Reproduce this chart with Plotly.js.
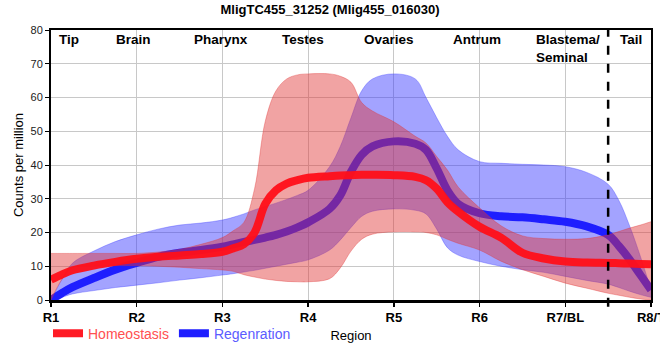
<!DOCTYPE html>
<html>
<head>
<meta charset="utf-8">
<script src="https://cdn.plot.ly/plotly-3.0.1.min.js"></script>
<style>html,body{margin:0;padding:0;background:#fff;}#chart{width:660px;height:360px;}</style>
</head>
<body>
<div id="chart"></div>
<script>
// Region positions along the body axis (R1 = 1 ... R8/T = 8)
const xPos = [1, 1.125, 1.25, 1.5, 1.75, 2, 2.25, 2.5, 2.75, 3, 3.125, 3.25, 3.375, 3.5, 3.625, 3.75, 3.875, 4, 4.25, 4.375, 4.5, 4.625, 4.75, 5, 5.25, 5.375, 5.5, 5.625, 5.75, 6, 6.25, 6.5, 6.75, 7, 7.25, 7.5, 7.625, 7.75, 7.875, 8];

// Homeostasis (counts per million)
const homMean  = [6, 7.5, 8.8, 10.2, 11.3, 12.2, 12.8, 13.2, 13.6, 14.3, 15.3, 16.5, 20, 28.5, 32.5, 34.5, 35.5, 36.2, 36.7, 36.9, 37, 37.1, 37.1, 37, 36.5, 35.5, 33, 29, 26.2, 21.7, 18.5, 14, 12.3, 11.4, 11.1, 11, 10.9, 10.8, 10.7, 10.6];
const homUpper = [13.8, 13.8, 13.8, 13.8, 13.8, 13.8, 14.2, 15, 16.5, 18.5, 20.5, 23, 33, 53, 62, 65.5, 66.7, 67, 67, 66.3, 64.5, 58.5, 56, 52.8, 48.5, 46.5, 42.5, 38.5, 33.5, 27.3, 22, 19, 18.2, 18, 18.2, 19.3, 20.3, 21.3, 22.2, 23.2];
const homLower = [0, 6, 9.5, 10.2, 10.2, 10.2, 10, 9.7, 9.3, 8.9, 8.5, 7.5, 6.8, 6.2, 5.8, 5.5, 5.4, 5.4, 6.3, 9.5, 14.5, 18, 19.5, 20.2, 20.2, 20, 19.3, 18, 16.8, 14.8, 11.5, 9, 7, 5, 3.5, 2, 1.4, 0.8, 0.3, 0];

// Regeneration (counts per million)
const regMean  = [0, 2, 3.8, 6.5, 9, 11, 12.8, 14, 14.8, 15.8, 16.5, 17.2, 17.8, 18.5, 19.3, 20.3, 21.5, 23, 27, 31, 38, 43, 45.5, 47, 46.3, 44.5, 39, 32.5, 28.5, 25.7, 24.8, 24.5, 23.9, 23.2, 21.8, 19.3, 16, 12, 7.5, 3];
const regUpper = [0, 6, 10.9, 14.5, 17.3, 19.3, 21, 22.2, 22.8, 23.7, 24.5, 25.5, 26.7, 27.7, 28.7, 29.8, 31, 32.5, 39.5, 45.5, 54, 62, 65.5, 67, 65.5, 60, 54, 48.5, 44.5, 41, 40.5, 40.2, 40, 39.5, 37.8, 34.3, 29.5, 22, 13, 3];
const regLower = [0, 0.8, 1.8, 2.8, 3.7, 4.4, 5.1, 5.9, 6.6, 7.4, 7.8, 8.3, 8.8, 9.4, 10, 10.6, 11.2, 11.9, 14.8, 17.8, 21.5, 24.8, 26.3, 27, 26.6, 25.5, 21, 15.5, 13.3, 11.4, 10, 9, 8.2, 7, 5.8, 4.7, 3.7, 2.6, 1.6, 0.8];

// Axis ticks
const tickVals = [1, 2, 3, 4, 5, 6, 7, 8];
const tickText = ['R1', 'R2', 'R3', 'R4', 'R5', 'R6', 'R7/BL', 'R8/T'];

// Tissue labels along the top
const tissueNames = ['Tip', 'Brain', 'Pharynx', 'Testes', 'Ovaries', 'Antrum', 'Blastema/<br>Seminal', 'Tail'];
const tissueX = [1.21, 1.96, 2.98, 3.94, 4.94, 5.97, 6.64, 7.77];
const tissueAnchor = ['center', 'center', 'center', 'center', 'center', 'center', 'left', 'center'];

// Blastema / tail boundary
const boundaryX = 7.5;

const ARIAL = '"Liberation Sans", Arial, sans-serif';

const traces = [
  {x: xPos, y: regUpper, mode: 'lines', line: {shape: 'spline', color: 'rgba(60,60,255,0.45)', width: 0.8}, showlegend: false, hoverinfo: 'skip'},
  {x: xPos, y: regLower, mode: 'lines', fill: 'tonexty', fillcolor: 'rgba(50,50,255,0.45)', line: {shape: 'spline', color: 'rgba(60,60,255,0.45)', width: 0.8}, showlegend: false, hoverinfo: 'skip'},
  {x: xPos, y: regMean, mode: 'lines', name: '<span style="color:#5b5bff">Regenration</span>', line: {shape: 'spline', color: 'rgb(30,30,255)', width: 8}},
  {x: xPos, y: homUpper, mode: 'lines', line: {shape: 'spline', color: 'rgba(225,50,50,0.45)', width: 0.8}, showlegend: false, hoverinfo: 'skip'},
  {x: xPos, y: homLower, mode: 'lines', fill: 'tonexty', fillcolor: 'rgba(225,50,50,0.45)', line: {shape: 'spline', color: 'rgba(225,50,50,0.45)', width: 0.8}, showlegend: false, hoverinfo: 'skip'},
  {x: xPos, y: homMean, mode: 'lines', name: '<span style="color:#ff5050">Homeostasis</span>', line: {shape: 'spline', color: 'rgba(255,15,25,0.95)', width: 8}}
];

const annotations = tissueNames.map((t, i) => ({
  x: tissueX[i], y: 80, xref: 'x', yref: 'y', yanchor: 'top', xanchor: tissueAnchor[i], align: 'left',
  text: t, showarrow: false, yshift: 0,
  font: {family: ARIAL, size: 13.5, color: '#000', weight: 'bold'}
}));

const layout = {
  width: 660, height: 360,
  margin: {l: 51, r: 9, t: 30, b: 60},
  paper_bgcolor: '#fff', plot_bgcolor: '#fff',
  title: {text: 'MligTC455_31252 (Mlig455_016030)', x: 0.5, xref: 'container', y: 0.975, yanchor: 'middle',
          font: {family: ARIAL, size: 13, color: '#000', weight: 'bold'}},
  xaxis: {
    range: [1, 8], tickvals: tickVals, ticktext: tickText, ticklabeloverflow: 'allow',
    showgrid: true, gridcolor: '#c8c8c8', gridwidth: 1,
    showline: true, linecolor: '#000', linewidth: 2.5, mirror: true,
    ticks: 'outside', ticklen: 4, tickcolor: '#000', tickwidth: 1.5,
    tickfont: {family: ARIAL, size: 13, color: '#000', weight: 'bold'},
    title: {text: 'Region', standoff: 7, font: {family: ARIAL, size: 13, color: '#000'}},
    zeroline: false, fixedrange: true
  },
  yaxis: {
    range: [0, 80], dtick: 10,
    showgrid: true, gridcolor: '#c8c8c8', gridwidth: 1,
    showline: true, linecolor: '#000', linewidth: 2, mirror: true,
    ticks: 'outside', ticklen: 4, tickcolor: '#000', tickwidth: 1,
    tickfont: {family: ARIAL, size: 11, color: '#222'},
    title: {text: 'Counts per million', standoff: 4, font: {family: ARIAL, size: 13, color: '#000'}},
    zeroline: false, fixedrange: true
  },
  legend: {orientation: 'h', traceorder: 'reversed', x: -0.005, xanchor: 'left', y: -0.125, yanchor: 'middle',
           font: {family: ARIAL, size: 14}, bgcolor: 'rgba(0,0,0,0)', itemwidth: 30, tracegroupgap: 0},
  showlegend: true,
  annotations: annotations,
  shapes: [{type: 'line', xref: 'x', yref: 'paper', x0: boundaryX, x1: boundaryX, y0: -0.025, y1: 1,
            line: {color: '#000', width: 2.5, dash: 'dash'}, layer: 'above'}]
};

Plotly.newPlot('chart', traces, layout, {displayModeBar: false, staticPlot: true});
</script>
</body>
</html>
